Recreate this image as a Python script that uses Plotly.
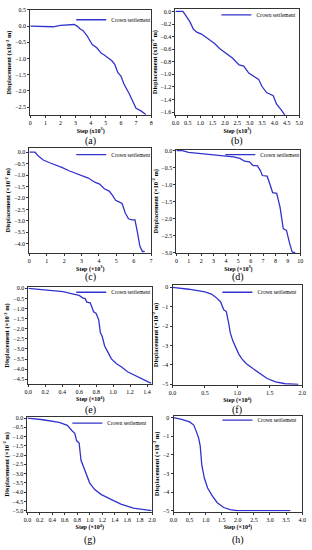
import plotly.graph_objects as go

# ---- data ----
step_a = [0, 0.5, 1.0, 1.5, 2.0, 2.5, 2.9, 3.1, 3.3, 3.5, 3.75, 4.0, 4.1, 4.4, 4.7, 4.9, 5.15, 5.4, 5.6, 5.8, 6.0, 6.2, 6.55, 6.75, 7.0, 7.3, 7.65]
disp_a = [0, 0, -0.01, -0.02, 0.02, 0.03, 0.05, 0.0, -0.09, -0.14, -0.29, -0.49, -0.57, -0.67, -0.84, -0.89, -0.99, -1.07, -1.19, -1.44, -1.54, -1.79, -2.09, -2.29, -2.54, -2.61, -2.73]

step_b = [0, 0.3, 0.46, 0.59, 0.72, 0.86, 1.05, 1.32, 1.58, 1.78, 2.04, 2.3, 2.57, 2.76, 2.96, 3.16, 3.36, 3.49, 3.68, 3.95, 4.08, 4.28, 4.42]
disp_b = [0, 0, -0.09, -0.17, -0.28, -0.33, -0.36, -0.43, -0.51, -0.59, -0.66, -0.74, -0.85, -0.87, -0.98, -1.03, -1.08, -1.19, -1.29, -1.34, -1.47, -1.57, -1.65]

step_c = [0, 0.33, 0.52, 0.8, 1.17, 1.54, 1.9, 2.28, 2.83, 3.39, 3.76, 4.04, 4.31, 4.59, 4.78, 4.96, 5.15, 5.33, 5.52, 5.7, 5.89, 6.07, 6.22, 6.35, 6.5, 6.63]
disp_c = [0, 0, -0.17, -0.34, -0.46, -0.56, -0.67, -0.81, -0.96, -1.13, -1.31, -1.39, -1.6, -1.7, -1.89, -2.1, -2.17, -2.24, -2.67, -2.91, -2.96, -2.96, -3.53, -4.1, -4.34, -4.34]

step_d = [0, 0.47, 0.98, 2.28, 3.58, 4.6, 5.13, 5.5, 5.9, 6.17, 6.55, 6.8, 6.94, 7.33, 7.6, 7.77, 8.1, 8.37, 8.63, 8.89, 9.15, 9.35, 9.6]
disp_d = [0, 0, -0.05, -0.1, -0.15, -0.18, -0.23, -0.31, -0.33, -0.43, -0.45, -0.6, -0.73, -0.75, -1.04, -1.23, -1.25, -1.66, -2.29, -2.34, -2.73, -2.97, -3.0]

step_e = [0, 0.1, 0.25, 0.41, 0.52, 0.6, 0.64, 0.67, 0.69, 0.73, 0.77, 0.8, 0.83, 0.85, 0.87, 0.9, 0.94, 0.98, 1.04, 1.1, 1.17, 1.25, 1.32, 1.4, 1.45]
disp_e = [0, -0.03, -0.08, -0.16, -0.27, -0.35, -0.47, -0.51, -0.68, -0.72, -1.16, -1.24, -1.56, -2.2, -2.36, -2.85, -3.17, -3.49, -3.73, -3.89, -4.13, -4.29, -4.45, -4.6, -4.7]

step_f = [0, 0.25, 0.5, 0.6, 0.67, 0.72, 0.74, 0.79, 0.83, 0.87, 0.89, 0.93, 0.97, 1.02, 1.07, 1.14, 1.24, 1.34, 1.46, 1.59, 1.74, 1.94]
disp_f = [0, -0.1, -0.24, -0.35, -0.52, -0.69, -0.74, -1.16, -1.25, -1.92, -2.34, -2.76, -3.1, -3.43, -3.69, -3.94, -4.19, -4.44, -4.7, -4.87, -4.97, -5.0]

step_g = [0, 0.25, 0.51, 0.64, 0.72, 0.76, 0.79, 0.83, 0.86, 0.9, 0.95, 1.0, 1.08, 1.18, 1.34, 1.5, 1.7, 1.86, 1.99]
disp_g = [0, -0.09, -0.23, -0.39, -0.7, -0.82, -1.23, -1.35, -2.28, -2.63, -3.16, -3.51, -3.86, -4.12, -4.39, -4.65, -4.86, -4.95, -5.0]

step_h = [0, 0.25, 0.5, 0.63, 0.71, 0.78, 0.83, 0.88, 0.96, 1.06, 1.21, 1.36, 1.56, 1.76, 1.96, 2.47, 3.0, 3.63]
disp_h = [0, -0.09, -0.23, -0.4, -0.75, -1.09, -1.53, -2.57, -3.26, -3.78, -4.22, -4.57, -4.83, -4.95, -5.0, -5.0, -5.0, -5.0]

captions = ["(a)", "(b)", "(c)", "(d)", "(e)", "(f)", "(g)", "(h)"]
series_name = "Crown settlement"
y_titles = ["Displacement (x10<sup>-2</sup> m)", "Displacement (x10<sup>-2</sup> m)"] + ["Displacement (×10<sup>-2</sup> m)"] * 6
x_titles = ["Step (x10<sup>3</sup>)", "Step (x10<sup>3</sup>)", "Step (×10<sup>3</sup>)", "Step (×10<sup>3</sup>)"] + ["Step (×10<sup>4</sup>)"] * 4

steps = [step_a, step_b, step_c, step_d, step_e, step_f, step_g, step_h]
disps = [disp_a, disp_b, disp_c, disp_d, disp_e, disp_f, disp_g, disp_h]

# ---- layout geometry (pixels) ----
W, H = 312, 550
boxes = [  # x0, x1, ytop, ybottom
    (27, 151, 4, 111), (176, 303, 3, 111),
    (26, 151, 144, 251), (177, 304, 146, 251),
    (25, 152, 286, 384), (173, 306, 284, 385),
    (24, 152, 418, 514), (174, 306, 417, 514),
]
xranges = [[0, 8], [0, 5], [0, 7], [0, 10], [0, 1.46], [0, 2], [0, 2], [0, 4]]
yranges = [[-2.75, 0.5], [-1.65, 0.04], [-4.4, 0.2], [-3.0, 0.03], [-4.72, 0.05], [-5.02, 0.1], [-5.05, 0.05], [-5.05, 0.08]]
xdtick = [1, 0.5, 1, 1, 0.2, 0.5, 0.2, 0.5]
xfmt = ["d", ".1f", "d", "d", ".1f", ".1f", ".1f", ".1f"]
ydtick = [0.5, 0.2, 0.5, 0.5, 0.5, 1, 0.5, 1]
yfmt = [".1f", ".1f", ".1f", ".1f", ".1f", "d", ".1f", "d"]
legend_pos = [(69, 14), (218, 9), (69, 151), (222, 151), (69, 291), (219, 291), (65, 424), (219, 421)]
caption_y = [137, 137, 275, 275, 411, 411, 543, 543]

FONT = "Liberation Serif"
LINE_COLOR = "#3232cc"

fig = go.Figure()
layout = dict(
    width=W, height=H, autosize=False,
    margin=dict(l=0, r=0, t=0, b=0),
    paper_bgcolor="white", plot_bgcolor="white",
    font=dict(family=FONT, size=6, color="black"),
    annotations=[],
)

for i in range(8):
    k = "" if i == 0 else str(i + 1)
    x0, x1, yt, yb = boxes[i]
    legname = "legend" if i == 0 else f"legend{i + 1}"
    fig.add_trace(go.Scatter(
        x=steps[i], y=disps[i], mode="lines", name=series_name,
        line=dict(color=LINE_COLOR, width=1.3),
        xaxis="x" + k, yaxis="y" + k, legend=legname, showlegend=True,
    ))
    common = dict(
        showline=True, mirror=True, linecolor="#333333", linewidth=1,
        ticks="outside", ticklen=2, tickwidth=0.8, tickcolor="#333333",
        showgrid=False, zeroline=False,
        tickfont=dict(family=FONT, size=6, color="black"),
    )
    layout["xaxis" + k] = dict(
        domain=[x0 / W, x1 / W], anchor="y" + k, range=xranges[i],
        tick0=0, dtick=xdtick[i], tickformat=xfmt[i],
        title=dict(text="<b>" + x_titles[i] + "</b>", font=dict(family=FONT, size=6), standoff=2),
        **common,
    )
    layout["yaxis" + k] = dict(
        domain=[1 - yb / H, 1 - yt / H], anchor="x" + k, range=yranges[i],
        tick0=0, dtick=ydtick[i], tickformat=yfmt[i],
        title=dict(text="<b>" + y_titles[i] + "</b>", font=dict(family=FONT, size=6.5), standoff=2),
        **common,
    )
    lx, ly = legend_pos[i]
    layout[legname] = dict(
        x=lx / W, y=1 - ly / H, xanchor="left", yanchor="middle",
        bgcolor="rgba(0,0,0,0)", borderwidth=0,
        font=dict(family=FONT, size=5.5, color="black"),
        itemwidth=30, tracegroupgap=0,
    )
    layout["annotations"].append(dict(
        text=captions[i], xref="paper", yref="paper",
        x=((x0 + x1) / 2) / W, y=1 - caption_y[i] / H,
        xanchor="center", yanchor="middle", showarrow=False,
        font=dict(family=FONT, size=10, color="black"),
    ))

fig.update_layout(**layout)
fig.write_html(
    "out.html",
    config={"displayModeBar": False},
    post_script="document.body.style.margin='0';document.body.style.overflow='hidden';",
)
